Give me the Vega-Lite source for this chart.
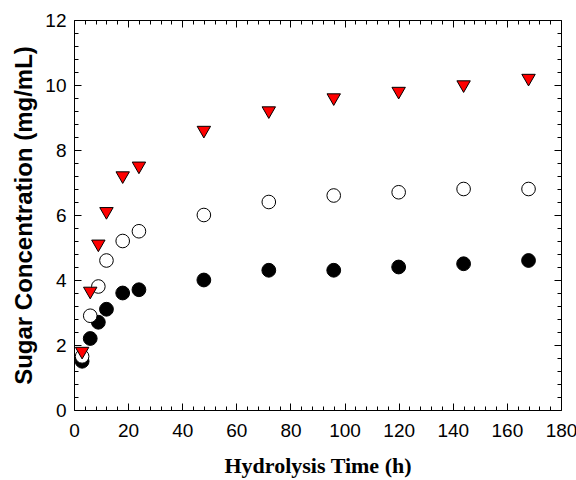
{
  "$schema": "https://vega.github.io/schema/vega-lite/v6.json",
  "width": 487,
  "height": 390,
  "autosize": "none",
  "padding": {"left": 74, "top": 20, "right": 15, "bottom": 70},
  "config": {
    "view": {"stroke": "black", "strokeWidth": 1},
    "axis": {"grid": false, "domain": false, "tickColor": "black", "tickWidth": 1, "labelColor": "black", "titleColor": "black", "labelFlush": false, "labelOverlap": false}
  },
  "data": {
    "values": [
      {"t": 3, "v": 1.5, "series": "filled"},
      {"t": 6, "v": 2.2, "series": "filled"},
      {"t": 9, "v": 2.7, "series": "filled"},
      {"t": 12, "v": 3.1, "series": "filled"},
      {"t": 18, "v": 3.6, "series": "filled"},
      {"t": 24, "v": 3.7, "series": "filled"},
      {"t": 48, "v": 4.0, "series": "filled"},
      {"t": 72, "v": 4.3, "series": "filled"},
      {"t": 96, "v": 4.3, "series": "filled"},
      {"t": 120, "v": 4.4, "series": "filled"},
      {"t": 144, "v": 4.5, "series": "filled"},
      {"t": 168, "v": 4.6, "series": "filled"},
      {"t": 3, "v": 1.65, "series": "open"},
      {"t": 6, "v": 2.9, "series": "open"},
      {"t": 9, "v": 3.8, "series": "open"},
      {"t": 12, "v": 4.6, "series": "open"},
      {"t": 18, "v": 5.2, "series": "open"},
      {"t": 24, "v": 5.5, "series": "open"},
      {"t": 48, "v": 6.0, "series": "open"},
      {"t": 72, "v": 6.4, "series": "open"},
      {"t": 96, "v": 6.6, "series": "open"},
      {"t": 120, "v": 6.7, "series": "open"},
      {"t": 144, "v": 6.8, "series": "open"},
      {"t": 168, "v": 6.8, "series": "open"},
      {"t": 3, "v": 1.75, "series": "tri"},
      {"t": 6, "v": 3.6, "series": "tri"},
      {"t": 9, "v": 5.05, "series": "tri"},
      {"t": 12, "v": 6.05, "series": "tri"},
      {"t": 18, "v": 7.15, "series": "tri"},
      {"t": 24, "v": 7.45, "series": "tri"},
      {"t": 48, "v": 8.55, "series": "tri"},
      {"t": 72, "v": 9.15, "series": "tri"},
      {"t": 96, "v": 9.55, "series": "tri"},
      {"t": 120, "v": 9.75, "series": "tri"},
      {"t": 144, "v": 9.95, "series": "tri"},
      {"t": 168, "v": 10.15, "series": "tri"}
    ]
  },
  "resolve": {"axis": {"x": "independent", "y": "independent"}},
  "layer": [
    {
      "mark": {"type": "point", "opacity": 0},
      "encoding": {
        "x": {"field": "t", "type": "quantitative", "scale": {"domain": [0, 180], "nice": false, "zero": false},
          "axis": {"orient": "bottom", "values": [4,8,12,16,24,28,32,36,44,48,52,56,64,68,72,76,84,88,92,96,104,108,112,116,124,128,132,136,144,148,152,156,164,168,172,176], "tickSize": -4, "labels": false, "title": null}},
        "y": {"field": "v", "type": "quantitative", "scale": {"domain": [0, 12], "nice": false, "zero": false},
          "axis": {"orient": "left", "values": [0.4,0.8,1.2,1.6,2.4,2.8,3.2,3.6,4.4,4.8,5.2,5.6,6.4,6.8,7.2,7.6,8.4,8.8,9.2,9.6,10.4,10.8,11.2,11.6], "tickSize": -4, "labels": false, "title": null}}
      }
    },
    {
      "mark": {"type": "point", "opacity": 0},
      "encoding": {
        "x": {"field": "t", "type": "quantitative",
          "axis": {"orient": "top", "values": [4,8,12,16,24,28,32,36,44,48,52,56,64,68,72,76,84,88,92,96,104,108,112,116,124,128,132,136,144,148,152,156,164,168,172,176], "tickSize": -4, "labels": false, "title": null}},
        "y": {"field": "v", "type": "quantitative",
          "axis": {"orient": "right", "values": [0.4,0.8,1.2,1.6,2.4,2.8,3.2,3.6,4.4,4.8,5.2,5.6,6.4,6.8,7.2,7.6,8.4,8.8,9.2,9.6,10.4,10.8,11.2,11.6], "tickSize": -4, "labels": false, "title": null}}
      }
    },
    {
      "mark": {"type": "point", "opacity": 0},
      "encoding": {
        "x": {"field": "t", "type": "quantitative",
          "axis": {"orient": "top", "values": [0,20,40,60,80,100,120,140,160,180], "tickSize": -7, "labels": false, "title": null}},
        "y": {"field": "v", "type": "quantitative",
          "axis": {"orient": "right", "values": [0,2,4,6,8,10,12], "tickSize": -7, "labels": false, "title": null}}
      }
    },
    {
      "mark": {"type": "point", "filled": true, "stroke": "black", "strokeWidth": 1, "opacity": 1},
      "encoding": {
        "x": {"field": "t", "type": "quantitative",
          "axis": {"orient": "bottom", "values": [0,20,40,60,80,100,120,140,160,180], "tickSize": -7, "labelPadding": 18, "labelFontSize": 19, "labelFont": "Liberation Sans",
            "title": "Hydrolysis Time (h)", "titleFont": "Liberation Serif", "titleFontSize": 22, "titleFontWeight": "bold", "titlePadding": 15}},
        "y": {"field": "v", "type": "quantitative",
          "axis": {"orient": "left", "values": [0,2,4,6,8,10,12], "tickSize": -7, "labelPadding": 15, "labelFontSize": 19, "labelFont": "Liberation Sans",
            "title": "Sugar Concentration (mg/mL)", "titleFont": "Liberation Sans", "titleFontSize": 24, "titleFontWeight": "bold", "titlePadding": 8}},
        "shape": {"field": "series", "type": "nominal", "scale": {"domain": ["filled", "open", "tri"], "range": ["circle", "circle", "triangle-down"]}, "legend": null},
        "fill": {"field": "series", "type": "nominal", "scale": {"domain": ["filled", "open", "tri"], "range": ["black", "white", "#ff0000"]}, "legend": null},
        "size": {"field": "series", "type": "nominal", "scale": {"domain": ["filled", "open", "tri"], "range": [190, 180, 300]}, "legend": null}
      }
    }
  ]
}
